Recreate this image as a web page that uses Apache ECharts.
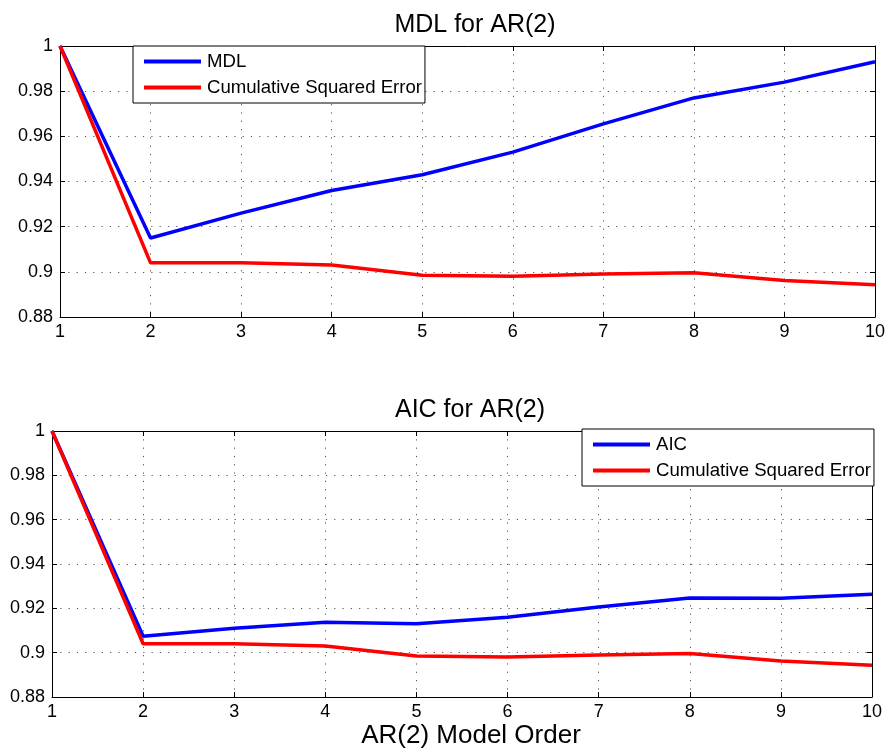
<!DOCTYPE html>
<html>
<head>
<meta charset="utf-8">
<script src="https://cdn.jsdelivr.net/npm/echarts@6/dist/echarts.min.js"></script>
<style>
html,body{margin:0;padding:0;background:#fff;}
#main{width:888px;height:753px;}
</style>
</head>
<body>
<div id="main"></div>
<script>
var orders = [1, 2, 3, 4, 5, 6, 7, 8, 9, 10];
var mdl = [1.000, 0.915, 0.926, 0.936, 0.943, 0.953, 0.9655, 0.977, 0.984, 0.993];
var cseTop = [1.000, 0.904, 0.904, 0.903, 0.8985, 0.898, 0.899, 0.8996, 0.8962, 0.8943];
var aic = [1.000, 0.9074, 0.911, 0.9137, 0.913, 0.916, 0.9206, 0.9247, 0.9245, 0.9263];
var cseBottom = [1.000, 0.904, 0.904, 0.903, 0.8985, 0.898, 0.899, 0.8996, 0.8962, 0.8943];
var yTicks = { min: 0.88, max: 1, step: 0.02 };
var xTicks = { min: 1, max: 10, step: 1 };
var titles = ['MDL for AR(2)', 'AIC for AR(2)'];
var xLabel = 'AR(2) Model Order';
var cseName = 'Cumulative Squared Error';

function pairs(ys) { return orders.map(function (x, i) { return [x, ys[i]]; }); }

var FONT = 'Liberation Sans, Arial, Helvetica, sans-serif';
var dotted = { color: '#555', width: 1, type: [1.2, 7.1] };

function xAx(grid, pos) {
  var main = pos === 'bottom';
  return {
    gridIndex: grid, type: 'value', position: pos,
    min: xTicks.min, max: xTicks.max, interval: xTicks.step,
    axisLine: { show: true, onZero: false, lineStyle: { color: '#000', width: 1 } },
    axisTick: { show: true, inside: true, length: 5, lineStyle: { color: '#000' } },
    axisLabel: { show: main, color: '#000', fontSize: 18, fontFamily: FONT, margin: 6 },
    splitLine: { show: main, lineStyle: dotted }
  };
}
function yAx(grid, pos) {
  var main = pos === 'left';
  return {
    gridIndex: grid, type: 'value', position: pos,
    min: yTicks.min, max: yTicks.max, interval: yTicks.step,
    axisLine: { show: true, onZero: false, lineStyle: { color: '#000', width: 1 } },
    axisTick: { show: true, inside: true, length: 5, lineStyle: { color: '#000' } },
    axisLabel: { show: main, color: '#000', fontSize: 18, fontFamily: FONT, margin: 7,
      formatter: function (v) { return String(+v.toFixed(2)); } },
    splitLine: { show: main, lineStyle: dotted }
  };
}
function line(name, data, color, xi, yi) {
  return {
    name: name, type: 'line', xAxisIndex: xi, yAxisIndex: yi,
    data: pairs(data), showSymbol: false, symbol: 'none', smooth: false,
    lineStyle: { color: color, width: 3.5 }, itemStyle: { color: color },
    animation: false
  };
}

var legendCommon = {
  orient: 'vertical', backgroundColor: '#fff', borderColor: '#000', borderWidth: 1,
  icon: 'rect', itemWidth: 57, itemHeight: 4, itemGap: 7, selectedMode: false,
  padding: [6, 3, 6, 11],
  textStyle: { color: '#000', fontSize: 18.6, fontFamily: FONT, padding: [0, 0, 0, 1] }
};

var chart = echarts.init(document.getElementById('main'), null, { renderer: 'canvas' });
chart.setOption({
  animation: false,
  backgroundColor: '#fff',
  title: [
    { text: titles[0], left: 470, top: 8, textAlign: 'center',
      textStyle: { fontSize: 25, fontWeight: 'normal', color: '#000', fontFamily: FONT } },
    { text: titles[1], left: 465, top: 393, textAlign: 'center',
      textStyle: { fontSize: 25, fontWeight: 'normal', color: '#000', fontFamily: FONT } },
    { text: xLabel, left: 466, top: 718, textAlign: 'center',
      textStyle: { fontSize: 26, fontWeight: 'normal', color: '#000', fontFamily: FONT } }
  ],
  grid: [
    { left: 60, top: 46, width: 819, height: 271 },
    { left: 52, top: 431, width: 820, height: 266 }
  ],
  xAxis: [xAx(0, 'bottom'), xAx(0, 'top'), xAx(1, 'bottom'), xAx(1, 'top')],
  yAxis: [yAx(0, 'left'), yAx(0, 'right'), yAx(1, 'left'), yAx(1, 'right')],
  legend: [
    Object.assign({}, legendCommon, { left: 133, top: 46, data: ['MDL', cseName] }),
    Object.assign({}, legendCommon, { left: 582, top: 429, data: ['AIC', cseName] })
  ],
  series: [
    line('MDL', mdl, '#0000ff', 0, 0),
    line(cseName, cseTop, '#ff0000', 0, 0),
    line('AIC', aic, '#0000ff', 2, 2),
    line(cseName, cseBottom, '#ff0000', 2, 2)
  ]
});
</script>
</body>
</html>
